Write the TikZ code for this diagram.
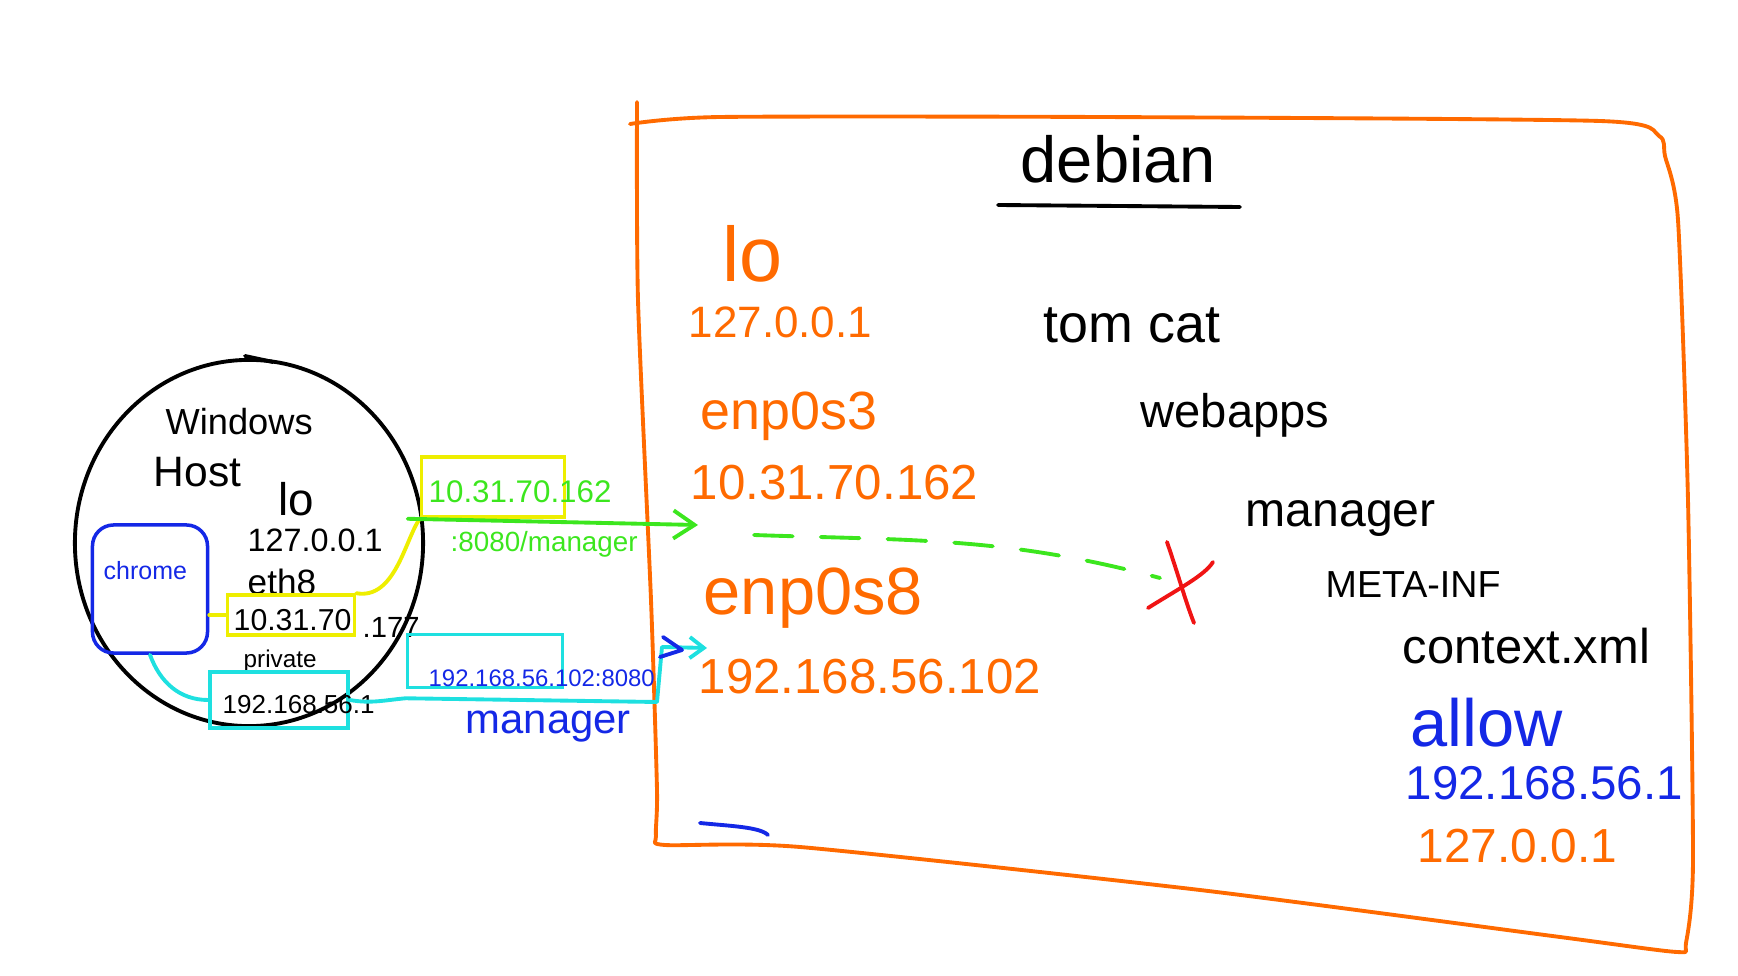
\documentclass[tikz,border=0pt]{standalone}
\usepackage{fontspec}
\setmainfont{Liberation Sans}
\usepackage{tikz}
\usetikzlibrary{arrows.meta, shapes.geometric}
\definecolor{laranja}{HTML}{FF6A00}
\definecolor{verde}{HTML}{3CE61E}
\definecolor{amarelo}{HTML}{EEEE00}
\definecolor{ciano}{HTML}{1EE0E0}
\definecolor{azul}{HTML}{1428E6}
\definecolor{vermelho}{HTML}{F01414}
\newcommand{\letra}[1]{\fontsize{#1pt}{#1pt}\selectfont}
\tikzstyle{texto}=[anchor=base west, inner sep=0pt]
\tikzstyle{traco}=[line width=1.1pt, line cap=round, line join=round]
\tikzstyle{caixa}=[draw, line width=1pt, inner sep=0pt]

\begin{document}
\begin{tikzpicture}[x=0.01cm, y=-0.01cm, >={Straight Barb[length=6pt, width=8pt]}]
				\useasboundingbox (0,0) rectangle (1738,976);
				% debian
				\draw[traco, laranja] plot[smooth, tension=.4] coordinates {(637,102) (638,300) (651,600) (657,790) (656,836) (665,845) (800,847) (1200,890) (1560,937) (1677,952) (1686,943) (1693,860) (1688,500) (1678,220) (1665,156) (1659,136) (1600,121) (1100,117) (720,117) (630,124)};
				\node[texto, font=\letra{18.5}] (debian) at (1020,183) {debian};
				\draw[traco] (998,205) -- (1240,207);
				\node[texto, laranja, font=\letra{22}] (lo) at (722,282) {lo};
				\node[texto, laranja, font=\letra{12.5}] (ip1) at (688,338) {127.0.0.1};
				\node[texto, laranja, font=\letra{15.3}] (enp3) at (700,430) {enp0s3};
				\node[texto, laranja, font=\letra{14}] (ip3) at (690,500) {10.31.70.162};
				\node[texto, laranja, font=\letra{19}] (enp8) at (703,615) {enp0s8};
				\node[texto, laranja, font=\letra{14}] (ip8) at (698,693) {192.168.56.102};
				\node[texto, font=\letra{15.3}] (tomcat) at (1043,343) {tom cat};
				\node[texto, font=\letra{13.4}] (webapps) at (1140,428) {webapps};
				\node[texto, font=\letra{13.7}] (manager) at (1245,527) {manager};
				\node[texto, font=\letra{10.7}] (metainf) at (1325,597) {META-INF};
				\node[texto, font=\letra{13.9}] (context) at (1402,663) {context.xml};
				\node[texto, azul, font=\letra{19}] (allow) at (1410,747) {allow};
				\node[texto, azul, font=\letra{13.5}] (allowip) at (1405,800) {192.168.56.1};
				\node[texto, laranja, font=\letra{13.6}] (allowlo) at (1417,863) {127.0.0.1};
				\draw[traco, azul] (700,823) .. controls (730,826) and (760,827) .. (768,835);
				% Windows host
				\node[draw, ellipse, traco, minimum width=3.48cm, minimum height=3.66cm] (host) at (249,543) {};
				\draw[traco] (245,356) -- (273,362);
				\node[texto, font=\letra{10.3}] (windows) at (165,435) {Windows};
				\node[texto, font=\letra{12.1}] (hostname) at (153,487) {Host};
				\node[texto, font=\letra{13}] (wlo) at (278,515) {lo};
				\node[texto, font=\letra{9.2}] (wip1) at (247,552) {127.0.0.1};
				\node[texto, font=\letra{10}] (eth) at (247,594) {eth8};
				\node[caixa, amarelo, minimum width=1.27cm, minimum height=0.40cm] (ybox) at (291,615) {};
				\node[texto, font=\letra{8.6}] (weth) at (233,630) {10.31.70};
				\node[texto, font=\letra{8.3}] (weth2) at (362,638) {.177};
				\node[texto, font=\letra{6.9}] (private) at (243,668) {private};
				\node[caixa, ciano, minimum width=1.38cm, minimum height=0.56cm] (cbox1) at (279,700) {};
				\node[texto, font=\letra{7.4}] (wpriv) at (222,713) {192.168.56.1};
				\node[caixa, azul, rounded corners=6pt, minimum width=1.15cm, minimum height=1.28cm] (chrome) at (150,589) {};
				\node[texto, azul, font=\letra{7.1}] (chrometxt) at (103,580) {chrome};
				% urls
				\node[caixa, amarelo, minimum width=1.43cm, minimum height=0.60cm] (gbox) at (493,487) {};
				\node[texto, verde, font=\letra{8.9}] (gurl) at (428,502) {10.31.70.162};
				\node[texto, verde, font=\letra{7.9}] (gpath) at (450,552) {:8080/manager};
				\node[caixa, ciano, minimum width=1.55cm, minimum height=0.53cm] (cbox2) at (485,661) {};
				\node[texto, azul, font=\letra{6.8}] (curl) at (428,686) {192.168.56.102:8080};
				\node[texto, azul, font=\letra{11.9}] (cpath) at (465,733) {manager};
				% conexoes
				\coordinate (gfim) at (698,525);
				\coordinate (dini) at (754,535);
				\coordinate (dfim) at (1160,578);
				\coordinate (ca) at (657,702);
				\coordinate (cb) at (662,647);
				\coordinate (cfim) at (707,648);
				\draw[traco, amarelo] (chrome.east |- ybox.west) -- (ybox.west);
				\draw[traco, amarelo] (ybox.north east) .. controls (395,600) and (405,540) .. (gbox.south west);
				\draw[traco, verde, ->] ([xshift=-0.12cm]gbox.south west) -- (gfim);
				\draw[traco, verde, dash pattern=on 11pt off 8pt] (dini) to[out=-2, in=165] (dfim);
				\draw[traco, vermelho] (1167,542) .. controls (1180,580) and (1185,600) .. (1194,623);
				\draw[traco, vermelho] (1148,608) .. controls (1180,588) and (1205,575) .. (1213,562);
				\draw[traco, ciano] (chrome.south) to[out=-70, in=180] (cbox1.west);
				\draw[traco, ciano, >={Straight Barb[length=4pt, width=6pt]}, ->] (cbox1.east) to[out=-10, in=185] ([yshift=-0.09cm]cbox2.south west) -- (ca) -- (cb) -- (cfim);
				\draw[traco, azul] (663,637) -- (682,650) -- (660,657);
\end{tikzpicture}
\end{document}
